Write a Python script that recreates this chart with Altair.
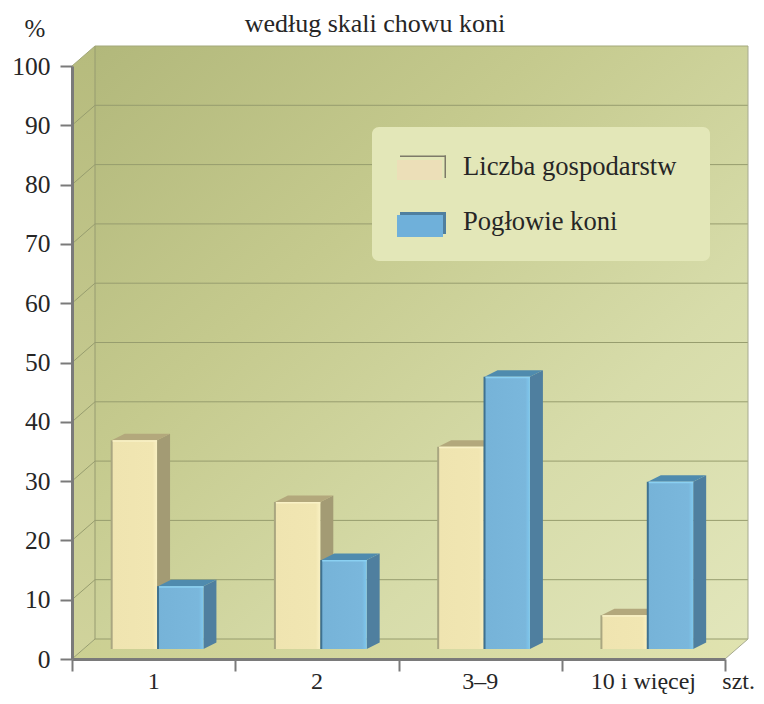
import altair as alt
import pandas as pd

# ---- chart values -------------------------------------------------------
categories = ["1", "2", "3–9", "10 i więcej"]
households = [35.2, 24.8, 34.1, 5.7]
horses = [10.6, 15.0, 45.9, 28.2]
y_ticks = [0, 10, 20, 30, 40, 50, 60, 70, 80, 90, 100]
x_ticks = [0, 1, 2, 3, 4]
legend_labels = ["Liczba gospodarstw", "Pogłowie koni"]
title_text = "według skali chowu koni"

# ---- layout -------------------------------------------------------------
W, H = 653, 593
X0, Y0 = 72, 659
FONT = "Liberation Serif"
sx = alt.Scale(domain=[0, 4], nice=False, zero=False)
sy = alt.Scale(domain=[0, 100], nice=False, zero=False)


def fx(p):
    return (p - X0) / W * 4


def fy(p):
    return (Y0 - p) / H * 100


DX = 23 / W * 4       # depth of the room
DY = 20 / H * 100
BDX = 13 / W * 4      # depth of a bar
BDY = 6.5 / H * 100
BASE = 10 / H * 100   # bars stand in the middle of the floor
THIN = 1 / W * 4
THINY = 1 / H * 100

AXIS = dict(
    domainColor="#7a7a7a", domainWidth=3, tickColor="#7a7a7a", tickWidth=2,
    tickSize=12, grid=False, zindex=2, title=None,
)
AX_X = alt.Axis(values=x_ticks, labels=False, **AXIS)
AX_Y = alt.Axis(
    values=y_ticks, labelFont=FONT, labelFontSize=25.5,
    labelColor="#262626", labelPadding=10, **AXIS,
)


def grad(stops, x1=0, y1=0, x2=1, y2=1):
    return alt.LinearGradient(
        gradient="linear",
        stops=[alt.GradientStop(offset=o, color=c) for o, c in stops],
        x1=x1, y1=y1, x2=x2, y2=y2,
    )


def X(field="x"):
    return alt.X(f"{field}:Q", scale=sx, axis=AX_X, title=None)


def Y(field="y"):
    return alt.Y(f"{field}:Q", scale=sy, axis=AX_Y, title=None)


def box(rows, **mark):
    """rows: (x0, x1, y0, y1)"""
    df = pd.DataFrame(rows, columns=["x", "x2", "y", "y2"])
    return alt.Chart(df).mark_rect(**mark).encode(
        x=X(), x2="x2:Q", y=Y(), y2="y2:Q"
    )


def poly(rows, **mark):
    """rows: (id, x, y, y2)"""
    df = pd.DataFrame(rows, columns=["id", "x", "y", "y2"])
    return alt.Chart(df).mark_area(**mark).encode(
        x=X(), y=Y(), y2="y2:Q", detail="id:N"
    )


def lines(rows, **mark):
    """rows: (id, x, y)"""
    df = pd.DataFrame(rows, columns=["id", "x", "y"])
    return alt.Chart(df).mark_line(**mark).encode(
        x=X(), y=Y(), detail="id:N"
    )


def label(text, x, y, size=24, align="center", color="#262626"):
    df = pd.DataFrame([{"t": text, "x": x, "y": y}])
    return alt.Chart(df).mark_text(
        font=FONT, fontSize=size, align=align, baseline="alphabetic", color=color
    ).encode(x=X(), y=Y(), text="t:N")


layers = []

# ---- room ---------------------------------------------------------------
layers.append(box(
    [(fx(72) + DX, fx(748), fy(639), fy(46))],
    fill=grad([(0, "#b2b87b"), (0.35, "#c5ca8e"), (0.7, "#d7dcaa"), (1, "#e2e6bb")]),
))
layers.append(poly(
    [("w", 0, 0, 100), ("w", DX, DY, 100 + DY)],
    fill=grad([(0, "#b6bb7d"), (1, "#d0d39c")], 0, 0, 0, 1),
))
layers.append(poly(
    [("f", 0, 0, 0), ("f", DX, 0, DY), ("f", 4, 0, DY), ("f", 4 + DX, DY, DY)],
    fill=grad([(0, "#cbcf92"), (1, "#e0e3b0")], 0, 0, 1, 0),
))
GRID = "#979d6e"
layers.append(lines(
    [(v, DX, v + DY) for v in y_ticks if 0 < v < 100]
    + [(v, 4 + DX, v + DY) for v in y_ticks if 0 < v < 100]
    + [(v + 1000, 0, v) for v in y_ticks[:-1]]
    + [(v + 1000, DX, v + DY) for v in y_ticks[:-1]]
    + [(5000, DX, DY), (5000, 4 + DX, DY)],
    color=GRID, strokeWidth=1,
))
layers.append(lines(
    [(1, DX, DY), (1, DX, 100 + DY)], color="#969b70", strokeWidth=1,
))
layers.append(lines(
    [(2, 4 + DX, DY), (2, 4 + DX, 100 + DY), (3, 4, 0), (3, 4 + DX, DY)],
    color="#a7aa90", strokeWidth=1,
))
layers.append(lines(
    [(4, DX, 100 + DY), (4, 4 + DX, 100 + DY), (6, 0, 100), (6, DX, 100 + DY)],
    color="#a3a87a", strokeWidth=1,
))


# ---- 3D bars ------------------------------------------------------------
def series(values, start, width, side, top, front, edge, shine):
    out = []
    sides, tops, fronts, edges, shines = [], [], [], [], []
    for i, v in enumerate(values):
        x0 = i + start
        x1 = x0 + width
        t = v + BASE
        sides += [(i, x1, BASE, t), (i, x1 + BDX, BASE + BDY, t + BDY)]
        tops += [
            (i, x0, t, t),
            (i, x0 + BDX, t, t + BDY),
            (i, x1, t, t + BDY),
            (i, x1 + BDX, t + BDY, t + BDY),
        ]
        fronts.append((x0, x1, BASE, t))
        edges.append((x0 - THIN, x0 + THIN, BASE, t))
        shines.append((x0 + THIN, x1, t - 1.5 * THINY, t))
    out.append(poly(sides, fill=side))
    out.append(poly(tops, fill=top))
    out.append(box(fronts, fill=front))
    out.append(box(edges, fill=edge))
    out.append(box(shines, fill=shine))
    return out


layers += series(
    households, 0.243, 0.278, "#a39b74", "#b3a87c",
    grad([(0, "#efe4b0"), (0.9, "#f1e6b2"), (1, "#f9f0c2")], 0, 0, 1, 0),
    "#a9a680", "#f9f1c6",
)
layers += series(
    horses, 0.527, 0.278, "#4f7f9f", "#4f8bae",
    grad([(0, "#76b3d8"), (0.9, "#7ab7dc"), (1, "#7fc8ee")], 0, 0, 1, 0),
    "#3f7291", "#8ad0f2",
)

# ---- legend -------------------------------------------------------------
layers.append(box(
    [(fx(372), fx(710), fy(261), fy(127))], fill="#e3e7b8", cornerRadius=7,
))
layers.append(box(
    [(fx(400), fx(446), fy(157), fy(155.5)), (fx(444.5), fx(446), fy(178), fy(155.5))],
    fill="#7d7a68",
))
layers.append(box([(fx(397), fx(442), fy(180), fy(160))], fill="#ecdfb8"))
layers.append(box([(fx(400), fx(446), fy(234), fy(212))], fill="#4f7f9f"))
layers.append(box([(fx(397), fx(443), fy(237), fy(215))], fill="#6fb0da"))
layers.append(label(legend_labels[0], fx(463), fy(175), size=26.6, align="left"))
layers.append(label(legend_labels[1], fx(463), fy(230), size=26.6, align="left"))

# ---- axis texts ---------------------------------------------------------
for i, c in enumerate(categories):
    layers.append(label(c, i + 0.5, fy(689)))
layers.append(label("szt.", fx(755), fy(689), align="right"))
layers.append(label("%", fx(35), fy(37), size=25))
layers.append(label(title_text, fx(375), fy(32), size=26))

chart = alt.layer(*layers).properties(
    width=W, height=H,
    padding={"left": 64, "top": 58, "right": 31, "bottom": 37},
    autosize=alt.AutoSizeParams(type="none"),
    background="white",
).configure_view(strokeWidth=0)

chart.save("out.html", embed_options={"renderer": "svg", "actions": False})
